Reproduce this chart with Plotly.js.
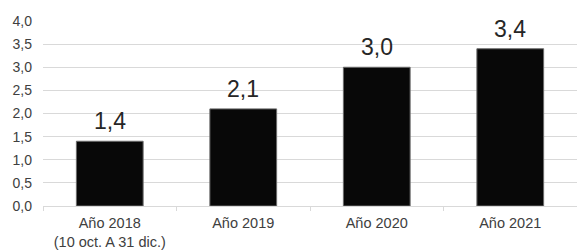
<!DOCTYPE html>
<html><head><meta charset="utf-8">
<script src="https://cdn.plot.ly/plotly-3.0.1.min.js"></script>
<style>html,body{margin:0;padding:0;background:#fff}#chart{width:577px;height:251px}</style>
</head><body><div id="chart"></div>
<script>
const categories = ["Año 2018<br>(10 oct. A 31 dic.)", "Año 2019", "Año 2020", "Año 2021"];
const values = [1.4, 2.1, 3.0, 3.4];
const yTicks = [0, 0.5, 1, 1.5, 2, 2.5, 3, 3.5, 4];

const font = "Liberation Sans, Arial, sans-serif";
const annotations = categories.map((c, i) => ({
  x: c, y: values[i], xref: "x", yref: "y",
  text: values[i].toFixed(1).replace(".", ","),
  showarrow: false, yanchor: "bottom", yshift: 5,
  font: {family: font, size: 23, color: "#262626"}
}));
Plotly.newPlot("chart", [{
  type: "bar",
  x: categories,
  y: values,
  marker: {color: "#080808", line: {color: "#6b6b6b", width: 1}},
  hoverinfo: "none"
}], {
  width: 577, height: 251,
  margin: {l: 43, r: 0, t: 21, b: 45, pad: 0},
  paper_bgcolor: "#fff", plot_bgcolor: "#fff",
  separators: ",.",
  bargap: 0.5,
  showlegend: false,
  annotations: annotations,
  font: {family: font, size: 14, color: "#404040"},
  xaxis: {
    type: "category",
    showgrid: false,
    showline: true, linecolor: "#d9d9d9", linewidth: 1,
    ticks: "outside", tickson: "boundaries", ticklen: 4, tickcolor: "#d9d9d9",
    ticklabelstandoff: 4,
    tickfont: {family: font, size: 14.5, color: "#404040"},
    automargin: false
  },
  yaxis: {
    range: [0, 4],
    tickvals: yTicks,
    tickformat: ".1f",
    showgrid: true, gridcolor: "#d9d9d9", gridwidth: 1,
    zeroline: false, showline: false,
    ticks: "", ticklabelstandoff: 10,
    tickfont: {family: font, size: 14, color: "#404040"},
    automargin: false
  }
}, {staticPlot: true, displayModeBar: false});
</script></body></html>
